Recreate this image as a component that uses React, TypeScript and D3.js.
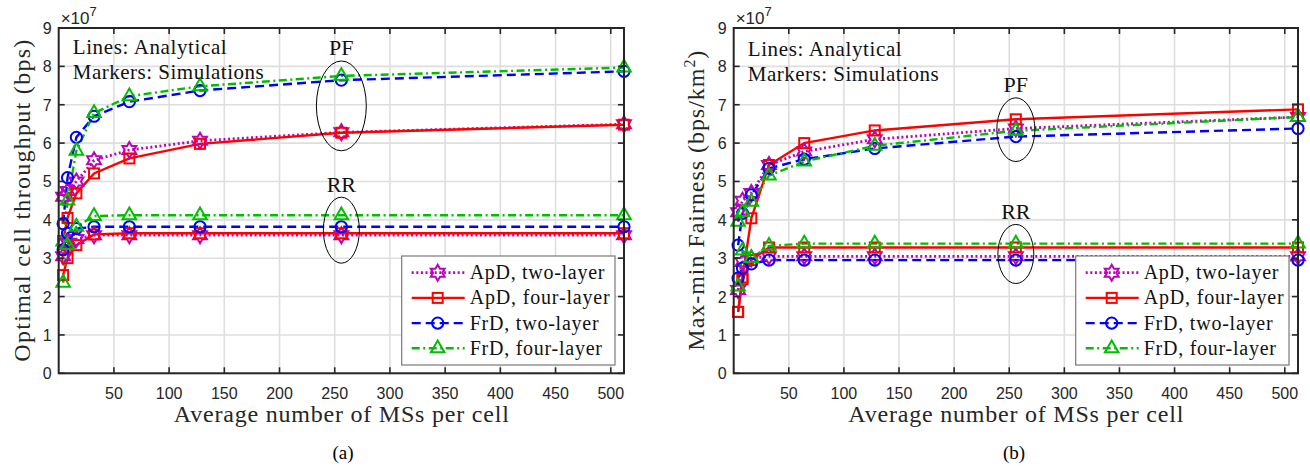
import React from 'react';
import * as d3 from 'd3';

// ---------- data ----------
const msPerCell = [4, 8, 16, 32, 64, 128, 256, 512];
const xTickValues = [50, 100, 150, 200, 250, 300, 350, 400, 450, 500];
const yTickValues = [0, 1, 2, 3, 4, 5, 6, 7, 8, 9];
const seriesNames = ['ApD, two-layer', 'ApD, four-layer', 'FrD, two-layer', 'FrD, four-layer'];

// (a) optimal cell throughput, x1e7 bps
const thrApdTwoPF = [4.6, 4.75, 5.0, 5.55, 5.82, 6.06, 6.28, 6.49];
const thrApdFourPF = [3.45, 4.05, 4.69, 5.21, 5.6, 5.98, 6.27, 6.48];
const thrFrdTwoPF = [3.9, 5.1, 6.15, 6.7, 7.08, 7.37, 7.64, 7.87];
const thrFrdFourPF = [3.43, 4.5, 5.8, 6.78, 7.22, 7.48, 7.75, 7.97];
const thrApdTwoRR = [3.05, 3.4, 3.5, 3.6, 3.6, 3.6, 3.6, 3.6];
const thrApdFourRR = [2.56, 3.0, 3.34, 3.62, 3.65, 3.65, 3.65, 3.65];
const thrFrdTwoRR = [3.22, 3.65, 3.77, 3.82, 3.82, 3.82, 3.82, 3.82];
const thrFrdFourRR = [2.36, 3.34, 3.82, 4.1, 4.12, 4.12, 4.12, 4.12];

// (b) max-min fairness, x1e7 bps/km^2
const fairApdTwoPF = [4.2, 4.5, 4.7, 5.43, 5.78, 6.1, 6.38, 6.68];
const fairApdFourPF = [1.6, 2.5, 4.04, 5.43, 6.0, 6.33, 6.62, 6.88];
const fairFrdTwoPF = [3.34, 4.17, 4.65, 5.34, 5.58, 5.86, 6.17, 6.38];
const fairFrdFourPF = [3.95, 4.2, 4.47, 5.15, 5.52, 5.93, 6.32, 6.68];
const fairApdTwoRR = [2.17, 2.9, 3.0, 3.05, 3.05, 3.05, 3.05, 3.05];
const fairApdFourRR = [1.6, 2.45, 2.95, 3.28, 3.28, 3.28, 3.28, 3.28];
const fairFrdTwoRR = [2.48, 2.74, 2.85, 2.95, 2.95, 2.95, 2.95, 2.95];
const fairFrdFourRR = [2.26, 3.2, 3.0, 3.32, 3.38, 3.38, 3.38, 3.38];

// ---------- styles ----------
const seriesStyle = [
  { color: '#bf00bf', dash: '2,2.6', marker: 'hexagram' },
  { color: '#ff0000', dash: null, marker: 'square' },
  { color: '#0000ff', dash: '9,5', marker: 'circle' },
  { color: '#00bf00', dash: '8,3.5,2,3.5', marker: 'triangle' },
];

const TOP = 28;
const BOTTOM = 373.3;
const SERIF = 'Liberation Serif';
const SANS = 'Liberation Sans';
const AXIS_COLOR = '#262626';
const GRID_COLOR = '#dedede';

function hexagramPath(R: number) {
  const r = R / Math.sqrt(3);
  const pts = d3.range(12).map((k) => {
    const a = -Math.PI / 2 + (k * Math.PI) / 6;
    const rad = k % 2 === 0 ? R : r;
    return [rad * Math.cos(a), rad * Math.sin(a)];
  });
  return 'M' + pts.map((p) => p[0].toFixed(2) + ',' + p[1].toFixed(2)).join('L') + 'Z';
}

function Marker({ kind, cx, cy, color }: { kind: string; cx: number; cy: number; color: string }) {
  const common = { fill: 'none', stroke: color, strokeWidth: 2 };
  if (kind === 'circle') return <circle cx={cx} cy={cy} r={5.6} {...common} />;
  if (kind === 'square') return <rect x={cx - 5} y={cy - 5} width={10} height={10} {...common} />;
  if (kind === 'triangle') {
    const R = 7.8;
    const p = `M${cx},${cy - R}L${cx + R * 0.866},${cy + R * 0.5}L${cx - R * 0.866},${cy + R * 0.5}Z`;
    return <path d={p} {...common} />;
  }
  return <path d={hexagramPath(8)} transform={`translate(${cx},${cy})`} {...common} strokeWidth={2} />;
}

type Panel = {
  left: number;
  right: number;
  ylabel: React.ReactNode;
  ylabelX: number;
  ylabelLen: number;
  caption: string;
  captionX: number;
  pf: number[][];
  rr: number[][];
  textY: number[];
  ellipses: { x: number; y: number; rx: number; ry: number; label: string; labelY: number }[];
};

const panels: Panel[] = [
  {
    left: 58.7,
    right: 624,
    ylabel: 'Optimal cell throughput (bps)',
    ylabelX: 29.5,
    ylabelLen: 322,
    caption: '(a)',
    captionX: 343,
    pf: [thrApdTwoPF, thrApdFourPF, thrFrdTwoPF, thrFrdFourPF],
    rr: [thrApdTwoRR, thrApdFourRR, thrFrdTwoRR, thrFrdFourRR],
    textY: [54, 79],
    ellipses: [
      { x: 256, y: 6.97, rx: 22.6, ry: 1.17, label: 'PF', labelY: 8.3 },
      { x: 256, y: 3.73, rx: 16.3, ry: 0.86, label: 'RR', labelY: 4.73 },
    ],
  },
  {
    left: 733.7,
    right: 1298,
    ylabel: (
      <>
        Max-min Fairness (bps/km
        <tspan dy={-9} fontSize={16}>2</tspan>
        <tspan dy={9}>)</tspan>
      </>
    ),
    ylabelX: 704,
    ylabelLen: 300,
    caption: '(b)',
    captionX: 1014,
    pf: [fairApdTwoPF, fairApdFourPF, fairFrdTwoPF, fairFrdFourPF],
    rr: [fairApdTwoRR, fairApdFourRR, fairFrdTwoRR, fairFrdFourRR],
    textY: [56, 81],
    ellipses: [
      { x: 256, y: 6.35, rx: 17.3, ry: 0.83, label: 'PF', labelY: 7.34 },
      { x: 256, y: 3.11, rx: 16.3, ry: 0.77, label: 'RR', labelY: 4.02 },
    ],
  },
];

const legendWidths = [134.7, 140, 129, 132.3];

function ChartPanel({ p }: { p: Panel }) {
  const x = d3.scaleLinear().domain([0, 512]).range([p.left, p.right]);
  const y = d3.scaleLinear().domain([0, 9]).range([BOTTOM, TOP]);
  const line = d3
    .line<number>()
    .x((_, i) => x(msPerCell[i]))
    .y((d) => y(d));
  const groups = [p.pf, p.rr];
  const legendW = 213.3;
  const legendH = 109;
  const lx = p.right - 9 - legendW;
  const ly = 256;
  const tick = 6;
  const midX = (p.left + p.right) / 2;

  return (
    <g>
      {/* grid */}
      {xTickValues.map((t) => (
        <line key={'gx' + t} x1={x(t)} x2={x(t)} y1={TOP} y2={BOTTOM} stroke={GRID_COLOR} strokeWidth={1.6} />
      ))}
      {yTickValues.map((t) => (
        <line key={'gy' + t} x1={p.left} x2={p.right} y1={y(t)} y2={y(t)} stroke={GRID_COLOR} strokeWidth={1.6} />
      ))}

      {/* lines */}
      {groups.map((g, gi) =>
        g.map((vals, si) => (
          <path
            key={`l${gi}-${si}`}
            d={line(vals) || ''}
            fill="none"
            stroke={seriesStyle[si].color}
            strokeWidth={si === 0 ? 2.8 : 2.4}
            strokeDasharray={seriesStyle[si].dash || undefined}
          />
        ))
      )}
      {/* markers */}
      {groups.map((g, gi) =>
        g.map((vals, si) =>
          vals.map((v, i) => (
            <Marker
              key={`m${gi}-${si}-${i}`}
              kind={seriesStyle[si].marker}
              cx={x(msPerCell[i])}
              cy={y(v)}
              color={seriesStyle[si].color}
            />
          ))
        )
      )}

      {/* ellipses and labels */}
      {p.ellipses.map((e) => (
        <g key={e.label}>
          <ellipse
            cx={x(e.x)}
            cy={y(e.y)}
            rx={x(e.rx) - x(0)}
            ry={y(0) - y(e.ry)}
            fill="none"
            stroke="#000"
            strokeWidth={1}
          />
          <text x={x(e.x)} y={y(e.labelY)} textAnchor="middle" style={{ fontFamily: SERIF }} fontSize={22} fill="#111">
            {e.label}
          </text>
        </g>
      ))}

      {/* axes box */}
      <rect x={p.left} y={TOP} width={p.right - p.left} height={BOTTOM - TOP} fill="none" stroke={AXIS_COLOR} strokeWidth={2} />
      {xTickValues.map((t) => (
        <g key={'tx' + t}>
          <line x1={x(t)} x2={x(t)} y1={BOTTOM} y2={BOTTOM - tick} stroke={AXIS_COLOR} strokeWidth={1.6} />
          <line x1={x(t)} x2={x(t)} y1={TOP} y2={TOP + tick} stroke={AXIS_COLOR} strokeWidth={1.6} />
          <text x={x(t)} y={399} textAnchor="middle" style={{ fontFamily: SANS }} fontSize={16} fill={AXIS_COLOR}>
            {t}
          </text>
        </g>
      ))}
      {yTickValues.map((t) => (
        <g key={'ty' + t}>
          <line x1={p.left} x2={p.left + tick} y1={y(t)} y2={y(t)} stroke={AXIS_COLOR} strokeWidth={1.6} />
          <line x1={p.right} x2={p.right - tick} y1={y(t)} y2={y(t)} stroke={AXIS_COLOR} strokeWidth={1.6} />
          <text x={p.left - 7} y={y(t) + 6} textAnchor="end" style={{ fontFamily: SANS }} fontSize={16} fill={AXIS_COLOR}>
            {t}
          </text>
        </g>
      ))}
      {/* exponent */}
      <text x={p.left + 2} y={23.5} style={{ fontFamily: SANS }} fontSize={17} fill={AXIS_COLOR}>
        ×10
        <tspan dy={-8} fontSize={13}>7</tspan>
      </text>

      {/* annotation text */}
      <text
        x={p.left + 14}
        y={p.textY[0]}
        style={{ fontFamily: SERIF }}
        fontSize={21}
        fill="#111"
        textLength={154}
        lengthAdjust="spacing"
      >
        Lines: Analytical
      </text>
      <text
        x={p.left + 14}
        y={p.textY[1]}
        style={{ fontFamily: SERIF }}
        fontSize={21}
        fill="#111"
        textLength={191}
        lengthAdjust="spacing"
      >
        Markers: Simulations
      </text>

      {/* axis labels */}
      <text
        x={midX}
        y={422}
        textAnchor="middle"
        style={{ fontFamily: SERIF }}
        fontSize={24}
        fill={AXIS_COLOR}
        textLength={335}
        lengthAdjust="spacing"
      >
        Average number of MSs per cell
      </text>
      <text
        transform={`translate(${p.ylabelX},${(TOP + BOTTOM) / 2}) rotate(-90)`}
        textAnchor="middle"
        style={{ fontFamily: SERIF }}
        fontSize={24}
        fill={AXIS_COLOR}
        textLength={p.ylabelLen}
        lengthAdjust="spacing"
      >
        {p.ylabel}
      </text>
      <text x={p.captionX} y={459} textAnchor="middle" style={{ fontFamily: SERIF }} fontSize={19} fill="#000">
        {p.caption}
      </text>

      {/* legend */}
      <rect x={lx} y={ly} width={legendW} height={legendH} fill="#fff" stroke="#7a7a7a" strokeWidth={1.2} />
      {seriesNames.map((name, i) => {
        const ey = ly + 16.7 + i * 25.2;
        const st = seriesStyle[i];
        return (
          <g key={name}>
            <line
              x1={lx + 10}
              x2={lx + 63}
              y1={ey}
              y2={ey}
              stroke={st.color}
              strokeWidth={i === 0 ? 2.8 : 2.4}
              strokeDasharray={st.dash || undefined}
            />
            <Marker kind={st.marker} cx={lx + 36} cy={ey} color={st.color} />
            <text
              x={lx + 68}
              y={ey + 6.5}
              style={{ fontFamily: SERIF }}
              fontSize={20}
              fill="#111"
              textLength={legendWidths[i]}
              lengthAdjust="spacing"
            >
              {name}
            </text>
          </g>
        );
      })}
    </g>
  );
}

export default function App() {
  return (
    <svg
      width={1310}
      height={466}
      viewBox="0 0 1310 466"
      style={{ position: 'absolute', left: 0, top: 0, background: '#fff' }}
    >
      <rect x={0} y={0} width={1310} height={466} fill="#fff" />
      {panels.map((p, i) => (
        <ChartPanel key={i} p={p} />
      ))}
    </svg>
  );
}
